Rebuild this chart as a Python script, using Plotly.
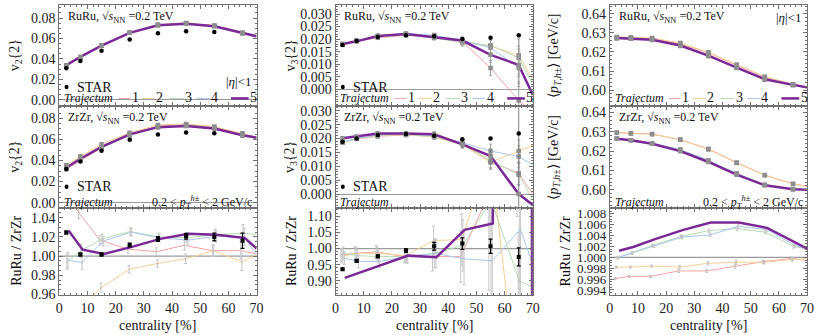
import plotly.graph_objects as go

# ---------------- data ----------------
cent = [2.5, 7.5, 15, 25, 35, 45, 55, 65, 70]
cent_p5 = [3.3, 8.3, 15.8, 25.8, 35.8, 45.8, 55.8, 65.8, 70]   # set 5 in ratio panels
cent_star = [2.5, 7.5, 15, 25, 35, 45, 55, 65]
cent_star_v2 = [2.5, 7.5, 15, 25, 35, 45, 55]

# tick values
tick_x = [0, 10, 20, 30, 40, 50, 60, 70]
tick_v2 = [0.0, 0.02, 0.04, 0.06, 0.08]
tick_v3 = [0.0, 0.005, 0.010, 0.015, 0.020, 0.025, 0.030]
tick_pt = [0.60, 0.61, 0.62, 0.63, 0.64]
tick_r_v2 = [0.96, 0.98, 1.00, 1.02, 1.04]
tick_r_v3 = [0.90, 0.95, 1.00, 1.05, 1.10]
tick_r_pt = [0.994, 0.996, 0.998, 1.000, 1.002, 1.004, 1.006, 1.008]

# v2{2} RuRu
v2_ru_s1 = [0.0330, 0.0415, 0.0528, 0.0655, 0.0732, 0.0750, 0.0725, 0.0655, 0.0625]
v2_ru_s2 = [0.0332, 0.0417, 0.0530, 0.0657, 0.0735, 0.0752, 0.0727, 0.0656, 0.0624]
v2_ru_s3 = [0.0335, 0.0418, 0.0530, 0.0655, 0.0731, 0.0746, 0.0721, 0.0650, 0.0620]
v2_ru_s4 = [0.0336, 0.0419, 0.0531, 0.0656, 0.0731, 0.0747, 0.0722, 0.0651, 0.0621]
v2_ru_s5 = [0.0340, 0.0420, 0.0530, 0.0655, 0.0730, 0.0745, 0.0720, 0.0652, 0.0622]
v2_ru_star = [0.031, 0.038, 0.048, 0.059, 0.065, 0.067, 0.0663]
# v2{2} ZrZr
v2_zr_s1 = [0.0318, 0.0400, 0.0520, 0.0650, 0.0728, 0.0740, 0.0720, 0.0650, 0.0620]
v2_zr_s2 = [0.0355, 0.0440, 0.0555, 0.0665, 0.0738, 0.0748, 0.0722, 0.0660, 0.0622]
v2_zr_s3 = [0.0337, 0.0416, 0.0520, 0.0640, 0.0717, 0.0732, 0.0705, 0.0636, 0.0606]
v2_zr_s4 = [0.0337, 0.0421, 0.0523, 0.0640, 0.0718, 0.0735, 0.0708, 0.0640, 0.0620]
v2_zr_s5 = [0.0331, 0.0417, 0.0529, 0.0649, 0.0717, 0.0728, 0.0704, 0.0640, 0.0617]
v2_zr_star = [0.032, 0.039, 0.0494, 0.0597, 0.0647, 0.0666, 0.066]
v2_err = [0.0008, 0.0008, 0.0008, 0.0008, 0.0008, 0.0008, 0.0008, 0.0009, 0.0]
# v2 ratio RuRu/ZrZr
v2_r_s1 = [1.065, 1.046, 1.0167, 1.0073, 1.0047, 1.0113, 1.0057, 1.0057, 1.0023]
v2_r_s2 = [0.930, 0.946, 0.967, 0.9863, 0.9923, 0.9973, 1.0057, 0.994, 1.0013]
v2_r_s3 = [0.994, 1.0057, 1.018, 1.0257, 1.020, 1.019, 1.0223, 1.024, 1.0223]
v2_r_s4 = [0.9957, 0.9933, 1.0157, 1.025, 1.019, 1.0167, 1.0207, 1.020, 1.0007]
v2_r_s5 = [1.0267, 1.0067, 1.0023, 1.0097, 1.018, 1.0233, 1.0223, 1.019, 1.008]
v2_r_err = [0.008, 0.007, 0.005, 0.004, 0.004, 0.005, 0.006, 0.009, 0.0]
v2_r_star = [1.0247, 1.0017, 1.0017, 1.0117, 1.018, 1.0207, 1.020, 1.016]
v2_r_star_err = [0.0015, 0.0015, 0.0015, 0.002, 0.0025, 0.003, 0.004, 0.008]

# v3{2} RuRu
v3_ru_s1 = [0.0178, 0.0192, 0.0205, 0.0215, 0.0210, 0.0190, 0.0085, -0.0045, -0.0090]
v3_ru_s2 = [0.0178, 0.0193, 0.0210, 0.0218, 0.0212, 0.0192, 0.0172, 0.0135, 0.0037]
v3_ru_s3 = [0.0179, 0.0193, 0.0210, 0.0217, 0.0205, 0.0185, 0.0175, 0.0125, 0.0020]
v3_ru_s4 = [0.0180, 0.0193, 0.0213, 0.0222, 0.0215, 0.0195, 0.0165, 0.0085, -0.0010]
v3_ru_s5 = [0.0180, 0.0191, 0.0212, 0.0220, 0.0207, 0.0194, 0.0137, 0.0097, -0.0023]
v3_ru_err = [0.0005, 0.0005, 0.0007, 0.0007, 0.0009, 0.0013, 0.003, 0.0075, 0.0]
v3_ru_star = [0.0176, 0.0192, 0.0208, 0.0215, 0.0211, 0.0200, 0.0205, 0.0215]
# v3{2} ZrZr
v3_zr_s1 = [0.0187, 0.0198, 0.0208, 0.0213, 0.0208, 0.0181, 0.0115, 0.0075, 0.0000]
v3_zr_s2 = [0.0186, 0.0199, 0.0210, 0.0214, 0.0205, 0.0178, 0.0115, 0.0155, 0.0175]
v3_zr_s3 = [0.0186, 0.0199, 0.0212, 0.0215, 0.0207, 0.0182, 0.0120, 0.0070, -0.0020]
v3_zr_s4 = [0.0187, 0.0200, 0.0213, 0.0216, 0.0210, 0.0185, 0.0155, 0.0135, 0.0105]
v3_zr_s5 = [0.0201, 0.0207, 0.0218, 0.0218, 0.0215, 0.0179, 0.0137, 0.0000, -0.0039]
v3_zr_err = [0.0005, 0.0005, 0.0007, 0.0007, 0.0009, 0.0012, 0.0025, 0.004, 0.0]
v3_zr_err_s5 = [0.0005, 0.0005, 0.0007, 0.0007, 0.0009, 0.0012, 0.0025, 0.05, 0.0]
v3_zr_star = [0.0188, 0.0200, 0.0213, 0.0216, 0.0210, 0.0197, 0.0200, 0.0218]
# v3 ratio
v3_r_s1 = [0.980, 0.985, 0.990, 0.975, 0.975, 0.975, 1.17, 1.6, 1.3]
v3_r_s2 = [0.975, 0.985, 0.985, 0.978, 1.025, 1.028, 1.30, 0.55, 0.50]
v3_r_s3 = [0.985, 0.978, 0.975, 0.975, 0.985, 1.010, 1.15, 0.90, 0.88]
v3_r_s4 = [0.970, 0.960, 0.960, 0.975, 0.985, 0.968, 0.962, 1.06, 0.95]
v3_r_s5 = [0.909, 0.924, 0.947, 0.978, 0.973, 1.058, 1.078, 20.0, -0.45]
v3_r_err = [0.02, 0.02, 0.02, 0.02, 0.045, 0.08, 0.3, 0.5, 0.0]
v3_r_star = [0.936, 0.962, 0.976, 0.994, 1.007, 1.0155, 1.007, 0.974]
v3_r_star_err = [0.003, 0.004, 0.004, 0.005, 0.012, 0.018, 0.022, 0.028]

# <pT> RuRu
pt_ru_s1 = [0.6272, 0.6271, 0.6269, 0.6243, 0.6196, 0.6130, 0.6068, 0.6030, 0.6016]
pt_ru_s2 = [0.6279, 0.6277, 0.6274, 0.6247, 0.6198, 0.6134, 0.6070, 0.6031, 0.6017]
pt_ru_s3 = [0.6273, 0.6271, 0.6264, 0.6232, 0.6180, 0.6116, 0.6054, 0.6026, 0.6014]
pt_ru_s4 = [0.6274, 0.6271, 0.6263, 0.6233, 0.6178, 0.6117, 0.6055, 0.6026, 0.6014]
pt_ru_s5 = [0.6274, 0.6271, 0.6264, 0.6234, 0.6181, 0.6118, 0.6057, 0.6027, 0.6014]
# <pT> ZrZr
pt_zr_s1 = [0.6297, 0.6293, 0.6289, 0.6259, 0.6212, 0.6141, 0.6076, 0.6031, 0.6018]
pt_zr_s2 = [0.6296, 0.6292, 0.6287, 0.6261, 0.6209, 0.6139, 0.6075, 0.6030, 0.6017]
pt_zr_s3 = [0.6266, 0.6257, 0.6241, 0.6208, 0.6150, 0.6085, 0.6026, 0.6004, 0.6000]
pt_zr_s4 = [0.6266, 0.6257, 0.6241, 0.6208, 0.6153, 0.6083, 0.6024, 0.6003, 0.6000]
pt_zr_s5 = [0.6264, 0.6256, 0.6238, 0.6200, 0.6144, 0.6078, 0.6023, 0.6003, 0.6000]
pt_err = [0.0003, 0.0003, 0.0003, 0.0003, 0.0003, 0.0003, 0.0003, 0.0003, 0.0]
# <pT> ratio
pt_r_s1 = [0.9961, 0.9965, 0.9965, 0.9975, 0.9975, 0.9984, 0.9992, 0.9998, 0.9994]
pt_r_s2 = [0.9982, 0.9982, 0.9984, 0.9982, 0.9989, 0.9991, 0.9991, 0.9996, 0.9997]
pt_r_s3 = [0.9999, 1.0008, 1.0022, 1.0038, 1.0049, 1.0053, 1.0046, 1.0020, 1.0015]
pt_r_s4 = [1.0000, 1.0008, 1.0020, 1.0037, 1.0041, 1.0057, 1.0051, 1.0022, 1.0015]
pt_r_s5 = [1.0012, 1.0019, 1.0033, 1.0050, 1.0064, 1.0064, 1.0054, 1.0027, 1.0016]
pt_r_err = [0.0002, 0.0002, 0.0002, 0.0003, 0.0003, 0.0004, 0.0003, 0.0003, 0.0]

set_labels = ["1", "2", "3", "4", "5"]

# ---------------- styling ----------------
FONT = "Liberation Serif"
SET_COLORS = ["#f2a3a3", "#f4cf92", "#b7dbb2", "#a8c7ec", "#7a2896"]
GRAY_MK = "#8e8e8e"
GRAY_ERR = "#a0a0a0"
LIGHT_ERR = "#c6c6c6"
FRAME = "#707070"
RATIO_OFFSETS = [-0.6, -0.2, 0.2, 0.6]

W, H = 822, 335
MT, MB = 5, 40
PH = H - MT - MB
col_px = [(56, 256), (336, 536), (614, 814)]
row_px = [(5, 106), (106, 207.7), (207.7, 295)]


def xdom(c):
    return [col_px[c][0] / W, col_px[c][1] / W]


def ydom(r):
    top, bot = row_px[r]
    return [(H - MB - bot) / PH, (H - MB - top) / PH]


def axn(k):
    return ("x" if k == 1 else f"x{k}"), ("y" if k == 1 else f"y{k}")


fig = go.Figure()


def line(k, x, y, color, width):
    xa, ya = axn(k)
    fig.add_trace(go.Scatter(x=x, y=y, mode="lines", xaxis=xa, yaxis=ya,
                             line=dict(color=color, width=width), showlegend=False,
                             hoverinfo="skip"))


def gray_pts(k, x, y, err, errcolor=GRAY_ERR):
    xa, ya = axn(k)
    fig.add_trace(go.Scatter(x=x[:-1], y=y[:-1], mode="markers", xaxis=xa, yaxis=ya,
                             marker=dict(symbol="square", size=4.5, color=GRAY_MK),
                             error_y=dict(type="data", array=err[:-1], color=errcolor,
                                          thickness=1, width=1.5),
                             showlegend=False, hoverinfo="skip"))


def star(k, x, y, err=None, symbol="circle", size=4.5):
    xa, ya = axn(k)
    ey = dict(type="data", array=err, color="black", thickness=1.2, width=2) if err else None
    fig.add_trace(go.Scatter(x=x, y=y, mode="markers", xaxis=xa, yaxis=ya,
                             marker=dict(symbol=symbol, size=size, color="black"),
                             error_y=ey, showlegend=False, hoverinfo="skip"))


def top_panel(k, sets, err, star_x=None, star_y=None, err_s5=None):
    for i in range(4):
        line(k, cent, sets[i], SET_COLORS[i], 1)
    line(k, cent, sets[4], SET_COLORS[4], 2.5)
    for i in range(4):
        gray_pts(k, cent, sets[i], err)
    gray_pts(k, cent, sets[4], err_s5 if err_s5 else err,
             errcolor="#808080" if err_s5 else GRAY_ERR)
    if star_x is not None:
        star(k, star_x, star_y)


def ratio_panel(k, sets, err, star_y=None, star_err=None):
    xa, ya = axn(k)
    for i in range(4):
        xs = [c + RATIO_OFFSETS[i] if c < 70 else c for c in cent]
        fig.add_trace(go.Scatter(x=xs, y=sets[i], mode="lines", xaxis=xa, yaxis=ya,
                                 line=dict(color=SET_COLORS[i], width=1),
                                 showlegend=False, hoverinfo="skip"))
        fig.add_trace(go.Scatter(x=xs[:-1], y=sets[i][:-1], mode="markers", xaxis=xa, yaxis=ya,
                                 marker=dict(size=2, color=LIGHT_ERR),
                                 error_y=dict(type="data", array=err[:-1], color=LIGHT_ERR,
                                              thickness=1, width=1.5),
                                 showlegend=False, hoverinfo="skip"))
    line(k, cent_p5, sets[4], SET_COLORS[4], 2.5)
    if star_y is not None:
        star(k, cent_star, star_y, star_err, symbol="square", size=4)


# column 1: v2
top_panel(1, [v2_ru_s1, v2_ru_s2, v2_ru_s3, v2_ru_s4, v2_ru_s5], v2_err, cent_star_v2, v2_ru_star)
top_panel(4, [v2_zr_s1, v2_zr_s2, v2_zr_s3, v2_zr_s4, v2_zr_s5], v2_err, cent_star_v2, v2_zr_star)
ratio_panel(7, [v2_r_s1, v2_r_s2, v2_r_s3, v2_r_s4, v2_r_s5], v2_r_err, v2_r_star, v2_r_star_err)
# column 2: v3
top_panel(2, [v3_ru_s1, v3_ru_s2, v3_ru_s3, v3_ru_s4, v3_ru_s5], v3_ru_err, cent_star, v3_ru_star)
top_panel(5, [v3_zr_s1, v3_zr_s2, v3_zr_s3, v3_zr_s4, v3_zr_s5], v3_zr_err, cent_star, v3_zr_star,
          err_s5=v3_zr_err_s5)
ratio_panel(8, [v3_r_s1, v3_r_s2, v3_r_s3, v3_r_s4, v3_r_s5], v3_r_err, v3_r_star, v3_r_star_err)
# column 3: <pT>
top_panel(3, [pt_ru_s1, pt_ru_s2, pt_ru_s3, pt_ru_s4, pt_ru_s5], pt_err)
top_panel(6, [pt_zr_s1, pt_zr_s2, pt_zr_s3, pt_zr_s4, pt_zr_s5], pt_err)
ratio_panel(9, [pt_r_s1, pt_r_s2, pt_r_s3, pt_r_s4, pt_r_s5], pt_r_err)

# ---------------- axes ----------------
yspec = {
    1: dict(range=[-0.0059, 0.0927], ticks=tick_v2, fmt=".2f", minor=0.005, zero=True, fs=14),
    4: dict(range=[-0.0048, 0.0918], ticks=tick_v2, fmt=".2f", minor=0.005, zero=True, fs=14),
    7: dict(range=[0.9595, 1.0505], ticks=tick_r_v2, fmt=".2f", minor=0.005, zero=False, fs=14),
    2: dict(range=[-0.0067, 0.0336], ticks=tick_v3, fmt=".3f", minor=0.001, zero=True, fs=14),
    5: dict(range=[-0.0049, 0.0317], ticks=tick_v3, fmt=".3f", minor=0.001, zero=True, fs=14),
    8: dict(range=[0.8556, 1.127], ticks=tick_r_v3, fmt=".2f", minor=0.01, zero=False, fs=14),
    3: dict(range=[0.5916, 0.6447], ticks=tick_pt, fmt=".2f", minor=0.002, zero=False, fs=14),
    6: dict(range=[0.5907, 0.6434], ticks=tick_pt, fmt=".2f", minor=0.002, zero=False, fs=14),
    9: dict(range=[0.99308, 1.00911], ticks=tick_r_pt, fmt=".3f", minor=0.0005, zero=False, fs=13),
}

common = dict(showline=True, linecolor=FRAME, linewidth=1, mirror="allticks",
              ticks="inside", ticklen=4, tickwidth=1, tickcolor=FRAME, showgrid=False)

layout_axes = {}
for r in range(3):
    for c in range(3):
        k = r * 3 + c + 1
        xa, ya = axn(k)
        xkey = "xaxis" if k == 1 else f"xaxis{k}"
        ykey = "yaxis" if k == 1 else f"yaxis{k}"
        s = yspec[k]
        layout_axes[xkey] = dict(common, domain=xdom(c), anchor=ya, range=[0, 70],
                                 tickmode="array", tickvals=tick_x,
                                 tickfont=dict(family=FONT, size=14, color="#222"),
                                 showticklabels=(r == 2), zeroline=False,
                                 minor=dict(ticks="inside", ticklen=2, dtick=2, tick0=0,
                                            tickcolor=FRAME))
        layout_axes[ykey] = dict(common, domain=ydom(r), anchor=xa, range=s["range"],
                                 tickmode="array", tickvals=s["ticks"],
                                 tickfont=dict(family=FONT, size=s["fs"], color="#222"),
                                 tickformat=s["fmt"], zeroline=s["zero"],
                                 zerolinecolor="#9a9a9a", zerolinewidth=1.2,
                                 minor=dict(ticks="inside", ticklen=2, dtick=s["minor"],
                                            tick0=0, tickcolor=FRAME))

fig.update_layout(**layout_axes)

# ---------------- annotations & legend decorations ----------------
ann = []
shapes = []


def dref(k):
    xa, ya = axn(k)
    return xa + " domain", ya + " domain"


def text(k, x, y, t, anchor="left", size=12, italic=False):
    xr, yr = dref(k)
    ann.append(dict(xref=xr, yref=yr, x=x, y=y, text=f"<i>{t}</i>" if italic else t,
                    showarrow=False, xanchor=anchor, yanchor="middle",
                    font=dict(family=FONT, size=size, color="#111")))


sqrt_txt = "√<i>s</i><sub>NN</sub> =0.2 TeV"
for k in (1, 2, 3):
    text(k, 0.035, 0.881, "RuRu, " + sqrt_txt, size=12)
for k in (4, 5, 6):
    text(k, 0.035, 0.878, "ZrZr, " + sqrt_txt, size=12)

# Trajectum legend (row 1)
leg_lines = [(0.30, 0.36, 0.385), (0.42, 0.485, 0.51), (0.56, 0.63, 0.655),
             (0.695, 0.76, 0.785), (0.87, 0.96, 0.985)]
for k in (1, 2, 3):
    text(k, 0.015, 0.084, "Trajectum", size=12, italic=True)
    xr, yr = dref(k)
    for i, (a, b, tx) in enumerate(leg_lines):
        shapes.append(dict(type="line", xref=xr, yref=yr, x0=a, x1=b, y0=0.075, y1=0.075,
                           line=dict(color=SET_COLORS[i], width=2.5 if i == 4 else 1)))
        text(k, tx, 0.084, set_labels[i], anchor="center", size=14)
for k in (4, 5, 6):
    text(k, 0.015, 0.056, "Trajectum", size=12, italic=True)

# STAR legend
for k, yy in ((1, 0.188), (2, 0.188), (4, 0.205), (5, 0.205)):
    xr, yr = dref(k)
    shapes.append(dict(type="circle", xref=xr, yref=yr, x0=0.027, x1=0.047,
                       y0=yy - 0.022, y1=yy + 0.022, fillcolor="black",
                       line=dict(color="black", width=0)))
    text(k, 0.08, yy, "STAR", size=14)

text(1, 0.985, 0.238, "|<i>η</i>|&lt;1", anchor="right", size=13)
text(3, 0.985, 0.881, "|<i>η</i>|&lt;1", anchor="right", size=13)
pt_txt = "0.2 &lt; <i>p</i><sub><i>T</i></sub><sup><i>h</i>±</sup> &lt; 2 GeV/c"
text(4, 0.985, 0.056, pt_txt, anchor="right", size=12)
text(6, 0.99, 0.056, pt_txt, anchor="right", size=12)

# reference line at 1 in ratio panels
for k in (7, 8, 9):
    xa, ya = axn(k)
    shapes.append(dict(type="line", xref=xa + " domain", yref=ya, x0=0, x1=1, y0=1, y1=1,
                       line=dict(color="#9a9a9a", width=1.2), layer="below"))


def ptitle(x, y, t, angle=-90):
    ann.append(dict(xref="paper", yref="paper", x=x, y=y, text=t, showarrow=False,
                    textangle=angle, xanchor="center", yanchor="middle",
                    font=dict(family=FONT, size=14, color="#111")))


def py(p):
    return (H - MB - p) / PH


ptitle(12 / W, py(55.5), "v<sub>2</sub>{2}")
ptitle(12 / W, py(157), "v<sub>2</sub>{2}")
ptitle(12 / W, py(251), "RuRu / ZrZr")
ptitle(291 / W, py(55.5), "v<sub>3</sub>{2}")
ptitle(291 / W, py(157), "v<sub>3</sub>{2}")
ptitle(291 / W, py(251), "RuRu / ZrZr")
ptitle(558 / W, py(55.5), "⟨<i>p</i><sub><i>T</i>,<i>h</i>±</sub>⟩ [GeV/c]")
ptitle(558 / W, py(157), "⟨<i>p</i><sub><i>T</i>,<i>h</i>±</sub>⟩ [GeV/c]")
ptitle(569 / W, py(251), "RuRu / ZrZr")
for cx in (156, 436, 714):
    ptitle(cx / W, py(325), "centrality [%]", angle=0)

fig.update_layout(width=W, height=H, margin=dict(l=0, r=0, t=MT, b=MB),
                  paper_bgcolor="white", plot_bgcolor="white", showlegend=False,
                  annotations=ann, shapes=shapes,
                  font=dict(family=FONT, size=14, color="#111"))

fig.write_html("out.html", config={"displayModeBar": False},
               post_script="document.body.style.margin='0px';document.body.style.padding='0px';")
